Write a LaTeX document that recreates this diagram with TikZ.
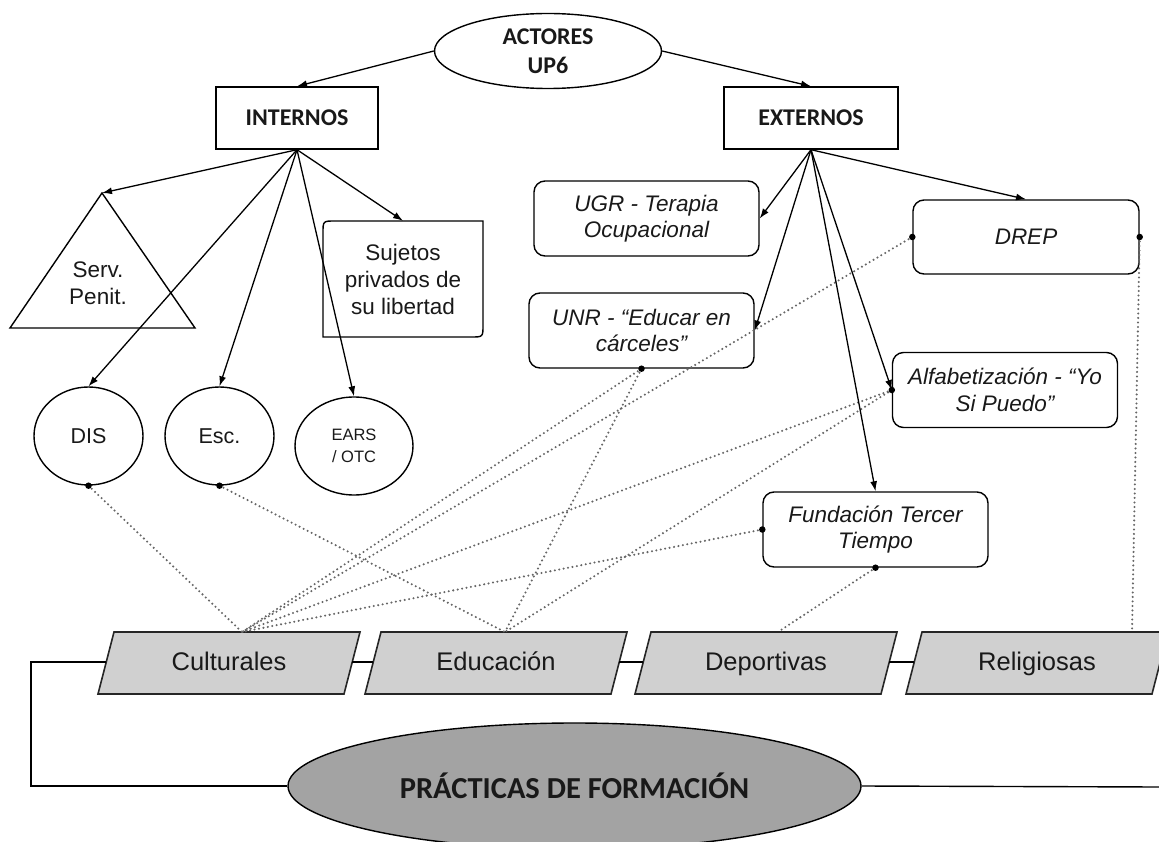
\documentclass[tikz,border=0pt]{standalone}
\usepackage{fontspec}
\setmainfont{Liberation Sans}
\newfontfamily\calfont{Carlito}
\usetikzlibrary{arrows.meta,shapes.geometric}
\definecolor{paragray}{HTML}{D0D0D0}
\definecolor{ovalgray}{HTML}{A3A3A3}
\definecolor{dotgray}{HTML}{666666}
\begin{document}
\begin{tikzpicture}[x=1pt,y=-1pt,
  every node/.style={inner sep=0pt, align=center, text=black!90},
  title/.style={font=\calfont\bfseries\fontsize{24}{29}\selectfont},
  sqbox/.style={draw, line width=1.4pt, minimum height=62pt, title},
  rbox/.style={draw, line width=1.4pt, rounded corners=11pt, minimum width=225pt, minimum height=75pt, font=\itshape\fontsize{22.5}{26.5}\selectfont},
  oval/.style={ellipse, draw, line width=1.4pt, minimum width=109pt, minimum height=98pt, font=\fontsize{21.5}{24}\selectfont},
  plain/.style={font=\fontsize{22.5}{27}\selectfont},
  para/.style={draw=black!85, fill=paragray, line width=1.6pt, line join=miter},
  paratext/.style={font=\fontsize{25.5}{28}\selectfont, text height=18pt, text depth=5pt},
  conn/.style={line width=1.3pt, -{Latex[length=10pt,width=7pt]}},
  link/.style={line width=1.4pt},
  dots/.style={line width=2.3pt, draw=dotgray, dash pattern=on 0pt off 4.5pt, line cap=round},
  endpt/.style={circle, fill=black, minimum size=6.5pt, inner sep=0pt}
]
\useasboundingbox (0,0) rectangle (1159,842);

% ---------- top ----------
\node[ellipse, draw, line width=1.4pt, minimum width=227pt, minimum height=75pt, title] (act) at (548,51) {ACTORES\\UP6};
\node[sqbox, minimum width=162pt] (int) at (297,118) {INTERNOS};
\node[sqbox, minimum width=174pt] (ext) at (811,118) {EXTERNOS};

% ---------- internos ----------
\coordinate (trtop) at (102,193);
\draw[line width=1.4pt, line join=miter] (trtop) -- (195,328) -- (10,328) -- cycle;
\node[plain] (serv) at (98,283) {Serv.\\Penit.};

\node[plain, minimum width=160pt, minimum height=116pt] (suj) at (403,279) {Sujetos\\privados de\\su libertad};
\draw[line width=1.4pt] (323,337) -- (323,233) .. controls (323,221) .. (335,221) -- (483,221) -- (483,325) .. controls (483,337) .. (471,337) -- cycle;

\node[oval] (dis) at (88.5,436) {DIS};
\node[oval] (esc) at (219.5,436) {Esc.};
\node[oval, minimum width=118pt, font=\fontsize{16.5}{22}\selectfont] (ears) at (354,446) {EARS\\/ OTC};

% ---------- externos ----------
\node[rbox] (ugr) at (646.5,218.5) {UGR - Terapia\\Ocupacional};
\node[rbox] (unr) at (641.5,330.5) {UNR - “Educar en\\cárceles”};
\node[rbox, minimum width=226pt, minimum height=74pt] (drep) at (1026,237) {DREP};
\node[rbox] (alf) at (1005,390) {Alfabetización - “Yo\\Si Puedo”};
\node[rbox] (fun) at (875.5,529.5) {Fundación Tercer\\Tiempo};

% ---------- bottom: practices ----------
\draw[para] (114,632) -- (360,632) -- (344,694) -- (98,694) -- cycle;
\node[paratext] (cul) at (229,664) {Culturales};
\draw[para] (381,632) -- (627,632) -- (611,694) -- (365,694) -- cycle;
\node[paratext] (edu) at (496,664) {Educación};
\draw[para] (651,632) -- (897,632) -- (881,694) -- (635,694) -- cycle;
\node[paratext] (dep) at (766,664) {Deportivas};
\draw[para] (922,632) -- (1168,632) -- (1152,694) -- (906,694) -- cycle;
\node[paratext] (rel) at (1037,664) {Religiosas};

\node[ellipse, draw, line width=1.4pt, fill=ovalgray, minimum width=573pt, minimum height=126pt,
      font=\calfont\bfseries\fontsize{30.5}{34}\selectfont] (prac) at (574.5,786) {PRÁCTICAS DE FORMACIÓN};

\coordinate (culL) at (106,662);
\coordinate (culR) at (352,662);
\coordinate (eduL) at (373,662);
\coordinate (eduR) at (619,662);
\coordinate (depL) at (643,662);
\coordinate (depR) at (889,662);
\coordinate (relL) at (914,662);
\coordinate (fa) at (31,662);
\coordinate (fb) at (31,786);
\coordinate (fc) at (1159,787);

\draw[link] (culR) -- (eduL);
\draw[link] (eduR) -- (depL);
\draw[link] (depR) -- (relL);
\draw[link] (culL) -- (fa) -- (fb) -- (prac.west);
\draw[link] (prac.east) -- (fc);

% ---------- dotted links ----------
\coordinate (C) at (242,632);
\coordinate (E) at (505,632);
\coordinate (D) at (778,632);
\coordinate (R) at (1132,632);

\draw[dots] (dis.south) -- (C);
\draw[dots] (esc.south) -- (E);
\draw[dots] (unr.south) -- (C);
\draw[dots] (unr.south) -- (E);
\draw[dots] (drep.west) -- (C);
\draw[dots] (alf.west) -- (C);
\draw[dots] (alf.west) -- (E);
\draw[dots] (fun.west) -- (C);
\draw[dots] (fun.south) -- (D);
\draw[dots] (drep.east) -- (R);

\node[endpt] (p1) at (dis.south) {};
\node[endpt] (p2) at (esc.south) {};
\node[endpt] (p3) at (unr.south) {};
\node[endpt] (p4) at (drep.west) {};
\node[endpt] (p5) at (drep.east) {};
\node[endpt] (p6) at (alf.west) {};
\node[endpt] (p7) at (fun.west) {};
\node[endpt] (p8) at (fun.south) {};

% ---------- arrows ----------
\draw[conn] (act.west) -- (int.north);
\draw[conn] (act.east) -- (ext.north);

\draw[conn] (int.south) -- (trtop);
\draw[conn] (int.south) -- (dis.north);
\draw[conn] (int.south) -- (esc.north);
\draw[conn] (int.south) -- (ears.north);
\draw[conn] (int.south) -- (suj.north);

\draw[conn] (ext.south) -- (ugr.east);
\draw[conn] (ext.south) -- (unr.east);
\draw[conn] (ext.south) -- (fun.north);
\draw[conn] (ext.south) -- (alf.west);
\draw[conn] (ext.south) -- (drep.north);
\end{tikzpicture}
\end{document}
